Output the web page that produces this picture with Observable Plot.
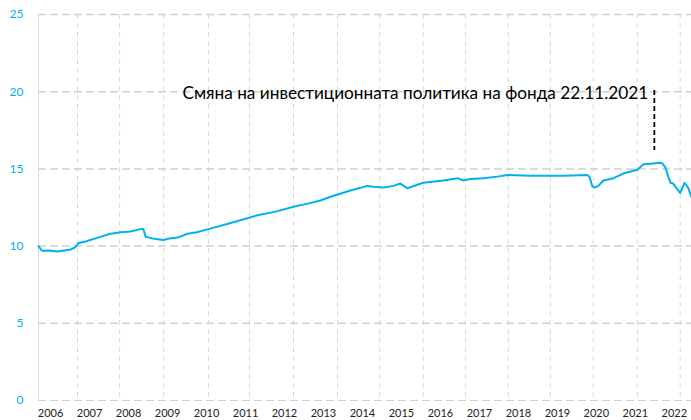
<!DOCTYPE html>
<html>
<head>
<meta charset="utf-8">
<script src="https://cdn.jsdelivr.net/npm/d3@7"></script>
<script src="https://cdn.jsdelivr.net/npm/@observablehq/plot@0.6"></script>
<style>
  html, body { margin: 0; padding: 0; background: #fff; }
  #chart svg { display: block; }
</style>
</head>
<body>
<div id="chart"></div>
<script>
// Axis units: year-label positions (label "2006" sits at 2006, etc.)
const t = [2005.69, 2005.75, 2005.79, 2005.95, 2006.18, 2006.35, 2006.51, 2006.62, 2006.72, 2006.9,
  2007.21, 2007.54, 2007.8, 2008.05, 2008.31, 2008.38, 2008.44, 2008.6, 2008.74, 2008.9,
  2009.05, 2009.26, 2009.51, 2009.75, 2010.05, 2010.62, 2011.31, 2011.8, 2012.23, 2012.6,
  2012.92, 2013.18, 2013.69, 2014.13, 2014.28, 2014.54, 2014.8, 2014.97, 2015.15, 2015.56,
  2016.08, 2016.44, 2016.59, 2016.77, 2017.1, 2017.46, 2017.72, 2018.31, 2019.15, 2019.77,
  2019.82, 2019.9, 2019.97, 2020.05, 2020.18, 2020.44, 2020.69, 2021.05, 2021.21, 2021.45,
  2021.64, 2021.69, 2021.77, 2021.85, 2021.9, 2021.97, 2022.04, 2022.1, 2022.15, 2022.26,
  2022.32, 2022.36, 2022.44];
const v = [10.0, 9.8, 9.7, 9.72, 9.65, 9.72, 9.78, 9.9, 10.2, 10.3,
  10.55, 10.8, 10.9, 10.95, 11.1, 11.1, 10.6, 10.5, 10.45, 10.4,
  10.5, 10.55, 10.8, 10.9, 11.1, 11.5, 12.0, 12.25, 12.55, 12.75,
  12.95, 13.2, 13.6, 13.9, 13.85, 13.8, 13.9, 14.05, 13.75, 14.1,
  14.25, 14.4, 14.25, 14.35, 14.4, 14.5, 14.6, 14.55, 14.55, 14.6,
  14.5, 13.85, 13.8, 13.9, 14.25, 14.4, 14.7, 14.95, 15.3, 15.35,
  15.4, 15.35, 15.1, 14.45, 14.1, 14.05, 13.8, 13.6, 13.45, 14.1,
  13.9, 13.75, 13.15];
const yearLabels = [2006, 2007, 2008, 2009, 2010, 2011, 2012, 2013, 2014, 2015, 2016, 2017, 2018, 2019, 2020, 2021, 2022];
const yTicks = [0, 5, 10, 15, 20, 25];
const vGrid = [2006.69, 2007.77, 2008.9, 2010.05, 2011.1, 2012.23, 2013.36, 2014.44, 2015.56, 2016.64, 2017.74, 2018.82, 2019.92, 2021.05, 2022.15];
const annotationText = "Смяна на инвестиционната политика на фонда 22.11.2021";
const annotationPos = {x: 2009.385, y: 19.88};
const markerX = 2021.487;
const markerY = [20.08, 16.19];

const data = t.map((d, i) => ({t: d, v: v[i]}));
const blue = "#00B0F0";

const chart = Plot.plot({
  width: 691,
  height: 420,
  marginLeft: 38,
  marginRight: 0,
  marginTop: 14,
  marginBottom: 20,
  style: {fontFamily: "Lato, 'Open Sans', sans-serif", background: "#fff"},
  x: {domain: [2005.69, 2022.44], axis: null, label: null},
  y: {domain: [0, 25], axis: null, label: null},
  marks: [
    Plot.ruleX(vGrid, {stroke: "#d9d9d9", strokeWidth: 1, strokeDasharray: "5,4"}),
    Plot.ruleY(yTicks.filter(d => d > 0), {stroke: "#d0d0d0", strokeWidth: 1.5, strokeDasharray: "8,4"}),
    Plot.ruleY([0], {stroke: "#d0d0d0", strokeWidth: 1.2, strokeDasharray: "8,4"}),
    Plot.ruleX([2005.69], {stroke: "#d9d9d9", strokeWidth: 1}),
    Plot.axisY({ticks: yTicks, tickSize: 0, tickPadding: 15, fontSize: 12, color: blue, label: null}),
    Plot.axisX({ticks: yearLabels, tickSize: 0, tickPadding: 9, fontSize: 11, tickFormat: d => String(d), color: "#222", label: null}),
    Plot.line(data, {x: "t", y: "v", stroke: blue, strokeWidth: 2}),
    Plot.ruleX([markerX], {y1: markerY[0], y2: markerY[1], stroke: "#000", strokeWidth: 1.8, strokeDasharray: "5,3"}),
    Plot.text([annotationText], {x: annotationPos.x, y: annotationPos.y, text: d => d, textAnchor: "start", fontSize: 17.2, fill: "#000"})
  ]
});
document.getElementById("chart").append(chart);
</script>
</body>
</html>
